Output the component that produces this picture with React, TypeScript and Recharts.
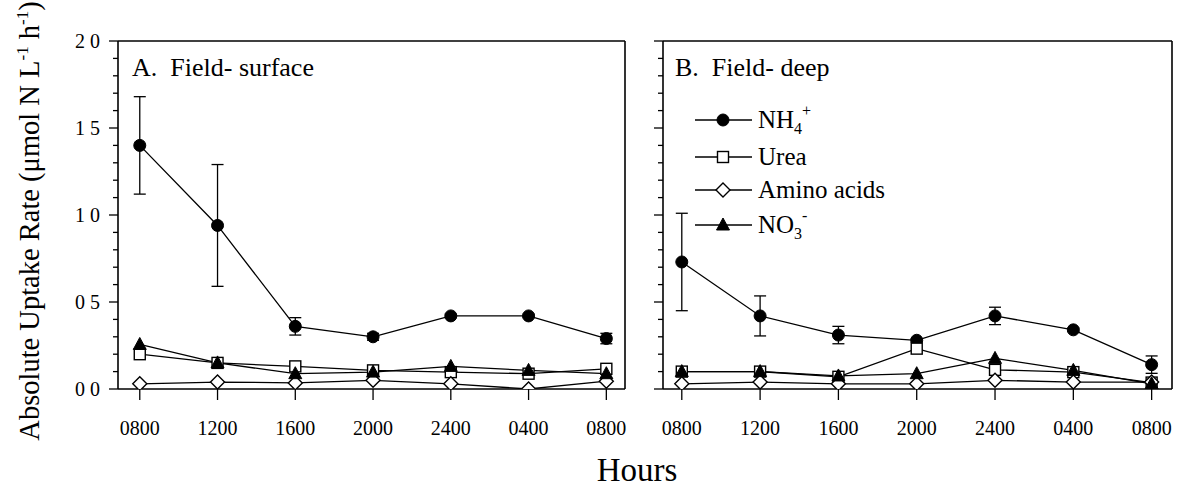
import React from "react";
import { LineChart, Line, XAxis, YAxis, ErrorBar, ReferenceLine } from "recharts";

const FONT = "'Liberation Serif', 'Times New Roman', Times, serif";

// ---- categories / tick labels ----
const hourLabels = ["0800", "1200", "1600", "2000", "2400", "0400", "0800"];
const xTicks = [0, 1, 2, 3, 4, 5, 6];
const yMajorTicks = [0, 0.5, 1.0, 1.5, 2.0];
const yTickLabels = ["0 0", "0 5", "1 0", "1 5", "2 0"];
const yMinorTicks = [0.1, 0.2, 0.3, 0.4, 0.6, 0.7, 0.8, 0.9, 1.1, 1.2, 1.3, 1.4, 1.6, 1.7, 1.8, 1.9];

// ---- Panel A: Field- surface ----
const nh4A = [1.40, 0.94, 0.36, 0.30, 0.42, 0.42, 0.29];
const nh4ErrA = [0.28, 0.35, 0.05, 0.02, 0.01, 0.01, 0.03];
const ureaA = [0.20, 0.15, 0.13, 0.107, 0.097, 0.088, 0.116];
const aminoA = [0.03, 0.04, 0.035, 0.05, 0.03, 0.0, 0.045];
const no3A = [0.256, 0.15, 0.088, 0.097, 0.13, 0.107, 0.088];

// ---- Panel B: Field- deep ----
const nh4B = [0.73, 0.42, 0.31, 0.28, 0.42, 0.34, 0.14];
const nh4ErrB = [0.28, 0.115, 0.05, 0.01, 0.05, 0.01, 0.05];
const ureaB = [0.10, 0.10, 0.07, 0.232, 0.11, 0.097, 0.037];
const aminoB = [0.03, 0.04, 0.03, 0.03, 0.05, 0.04, 0.04];
const no3B = [0.10, 0.10, 0.075, 0.088, 0.176, 0.107, 0.03];

const seriesNames = ["NH4+", "Urea", "Amino acids", "NO3-"];

const buildRows = (nh4: number[], err: number[], urea: number[], amino: number[], no3: number[]) =>
  xTicks.map((i) => ({ i, nh4: nh4[i], nh4Err: err[i], urea: urea[i], amino: amino[i], no3: no3[i] }));

const rowsA = buildRows(nh4A, nh4ErrA, ureaA, aminoA, no3A);
const rowsB = buildRows(nh4B, nh4ErrB, ureaB, aminoB, no3B);
const yAllTicks = [...yMajorTicks, ...yMinorTicks].sort((a, b) => a - b);

// ---- marker shapes ----
const CircleMark = ({ cx, cy }: any) =>
  cx == null ? <g /> : <circle cx={cx} cy={cy} r={6} fill="#000" stroke="#000" strokeWidth={1} />;
const SquareMark = ({ cx, cy }: any) =>
  cx == null ? <g /> : <rect x={cx - 5.5} y={cy - 5.5} width={11} height={11} fill="#fff" stroke="#000" strokeWidth={1.4} />;
const DiamondMark = ({ cx, cy }: any) =>
  cx == null ? <g /> : (
    <polygon points={`${cx},${cy - 7} ${cx + 7},${cy} ${cx},${cy + 7} ${cx - 7},${cy}`} fill="#fff" stroke="#000" strokeWidth={1.4} />
  );
const TriangleMark = ({ cx, cy }: any) =>
  cx == null ? <g /> : (
    <polygon points={`${cx},${cy - 7} ${cx + 6.5},${cy + 5} ${cx - 6.5},${cy + 5}`} fill="#000" stroke="#000" strokeWidth={1} />
  );

const dotFn = (Comp: any) => (props: any) => <Comp key={`${props.dataKey}-${props.index}`} cx={props.cx} cy={props.cy} />;

const YTick = (props: any) => {
  const { x, y, payload, showLabels } = props;
  const v = payload.value;
  const majorIdx = yMajorTicks.findIndex((m) => Math.abs(m - v) < 1e-6);
  const isMajor = majorIdx >= 0;
  return (
    <g>
      <line x1={x} y1={y} x2={x - (isMajor ? 9 : 5)} y2={y} stroke="#000" strokeWidth={1.3} />
      {isMajor && showLabels ? (
        <text x={x - 18} y={y} textAnchor="end" dominantBaseline="central" fontFamily={FONT} fontSize={20} fill="#000" style={{ whiteSpace: "pre" }}>
          {yTickLabels[majorIdx]}
        </text>
      ) : null}
    </g>
  );
};

const Panel = ({ rows, showLabels, yWidth, xDomain, width, rightMargin }: any) => (
  <LineChart
    width={width}
    height={493}
    data={rows}
    margin={{ top: 41, right: rightMargin, bottom: 64, left: 0 }}
  >
    <XAxis
      type="number"
      dataKey="i"
      domain={xDomain}
      ticks={xTicks}
      interval={0}
      allowDataOverflow
      tickFormatter={(v: number) => hourLabels[v]}
      tickSize={11}
      tickMargin={21}
      height={40}
      axisLine={{ stroke: "#000", strokeWidth: 1.6 }}
      tickLine={{ stroke: "#000", strokeWidth: 1.3 }}
      tick={{ fontSize: 20, fontFamily: FONT, fill: "#000" }}
    />
    <YAxis
      type="number"
      domain={[0, 2]}
      ticks={yAllTicks}
      interval={0}
      allowDataOverflow
      width={yWidth}
      tickSize={0}
      tickMargin={0}
      tickLine={false}
      axisLine={{ stroke: "#000", strokeWidth: 1.6 }}
      tick={<YTick showLabels={showLabels} />}
    />
    <ReferenceLine y={2} stroke="#000" strokeWidth={1.3} ifOverflow="visible" />
    <ReferenceLine x={xDomain[1]} stroke="#000" strokeWidth={1.6} ifOverflow="visible" />
    <Line
      name={seriesNames[0]}
      dataKey="nh4"
      stroke="#000"
      strokeWidth={1.3}
      isAnimationActive={false}
      dot={dotFn(CircleMark)}
      activeDot={false}
    >
      <ErrorBar dataKey="nh4Err" direction="y" width={6} stroke="#000" strokeWidth={1.3} isAnimationActive={false} />
    </Line>
    <Line name={seriesNames[1]} dataKey="urea" stroke="#000" strokeWidth={1.3} isAnimationActive={false} dot={dotFn(SquareMark)} activeDot={false} />
    <Line name={seriesNames[2]} dataKey="amino" stroke="#000" strokeWidth={1.3} isAnimationActive={false} dot={dotFn(DiamondMark)} activeDot={false} />
    <Line name={seriesNames[3]} dataKey="no3" stroke="#000" strokeWidth={1.3} isAnimationActive={false} dot={dotFn(TriangleMark)} activeDot={false} />
  </LineChart>
);

const legendRows = [
  { y: 120, Mark: CircleMark, main: "NH", sub: "4", sup: "+" },
  { y: 157, Mark: SquareMark, main: "Urea", sub: "", sup: "" },
  { y: 190, Mark: DiamondMark, main: "Amino acids", sub: "", sup: "" },
  { y: 225, Mark: TriangleMark, main: "NO", sub: "3", sup: "-" },
];

export default function App() {
  return (
    <div style={{ position: "absolute", left: 0, top: 0, width: 1192, height: 493, background: "#fff", overflow: "hidden" }}>
      <div style={{ position: "absolute", left: 0, top: 0 }}>
        <Panel rows={rowsA} showLabels yWidth={118} xDomain={[-0.28, 6.24]} width={640} rightMargin={15} />
      </div>
      <div style={{ position: "absolute", left: 640, top: 0 }}>
        <Panel rows={rowsB} showLabels={false} yWidth={23} xDomain={[-0.24, 6.26]} width={552} rightMargin={20} />
      </div>
      <svg width={1192} height={493} style={{ position: "absolute", left: 0, top: 0, pointerEvents: "none" }}>
        <text x={132} y={76} fontFamily={FONT} fontSize={26} fill="#000" style={{ whiteSpace: "pre" }}>
          {"A.  Field- surface"}
        </text>
        <text x={675} y={76} fontFamily={FONT} fontSize={26} fill="#000" style={{ whiteSpace: "pre" }}>
          {"B.  Field- deep"}
        </text>
        {legendRows.map((r, k) => (
          <g key={k}>
            <line x1={695} x2={752} y1={r.y} y2={r.y} stroke="#000" strokeWidth={1.3} />
            <r.Mark cx={723} cy={r.y} />
            <text x={758} y={r.y + 8} fontFamily={FONT} fontSize={25} fill="#000">
              {r.main}
              {r.sub ? (
                <tspan fontSize={16} dy={6}>{r.sub}</tspan>
              ) : null}
              {r.sup ? (
                <tspan fontSize={16} dy={-18}>{r.sup}</tspan>
              ) : null}
            </text>
          </g>
        ))}
        <text
          x={39}
          y={221}
          transform="rotate(-90, 39, 221)"
          textAnchor="middle"
          fontFamily={FONT}
          fontSize={28.5}
          fill="#000"
        >
          Absolute Uptake Rate (μmol N L
          <tspan fontSize={17} dy={-11}>-1</tspan>
          <tspan dy={11}> h</tspan>
          <tspan fontSize={17} dy={-11}>-1</tspan>
          <tspan dy={11}>)</tspan>
        </text>
        <text x={637} y={481} textAnchor="middle" fontFamily={FONT} fontSize={33} fill="#000">
          Hours
        </text>
      </svg>
    </div>
  );
}
